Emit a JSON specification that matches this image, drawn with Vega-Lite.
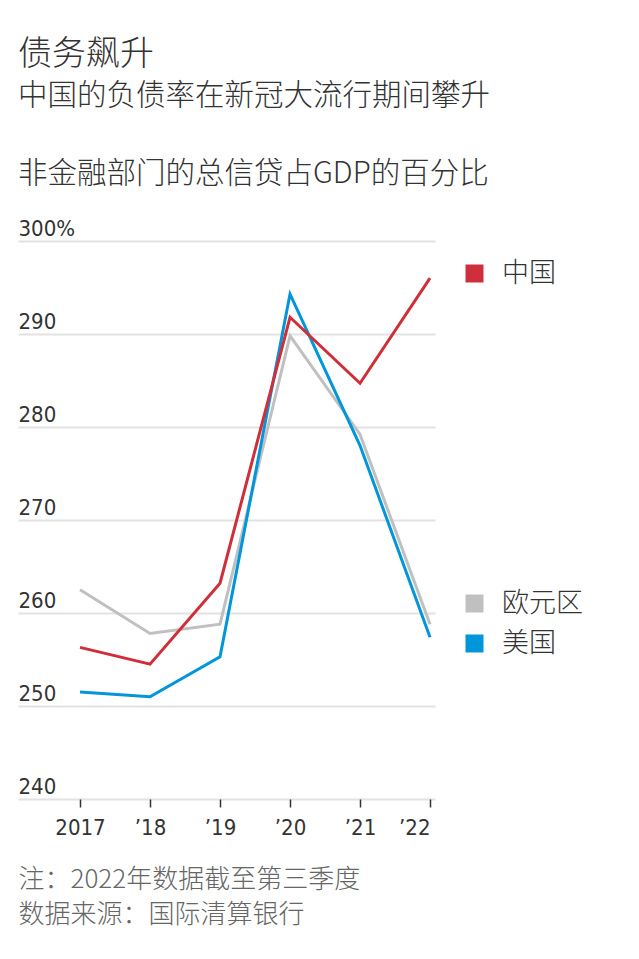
{
  "$schema": "https://vega.github.io/schema/vega-lite/v6.json",
  "width": 417,
  "height": 558,
  "autosize": "none",
  "padding": {"left": 18, "top": 241, "right": 204, "bottom": 160},
  "background": "white",
  "config": {
    "view": {"stroke": null},
    "font": "Noto Sans CJK SC"
  },
  "title": {
    "text": "债务飙升",
    "subtitle": ["中国的负债率在新冠大流行期间攀升", "非金融部门的总信贷占GDP的百分比"],
    "anchor": "start",
    "font": "Noto Sans CJK SC",
    "fontSize": 34,
    "fontWeight": 300,
    "color": "#333333",
    "subtitleFont": "Noto Sans CJK SC",
    "subtitleFontSize": 29.5,
    "subtitleFontWeight": 300,
    "subtitleColor": "#333333",
    "subtitleLineHeight": 78,
    "subtitlePadding": 10,
    "offset": 29
  },
  "data": {
    "values": [
      {"year": 2017, "region": "中国", "value": 256.3},
      {"year": 2018, "region": "中国", "value": 254.5},
      {"year": 2019, "region": "中国", "value": 263.2},
      {"year": 2020, "region": "中国", "value": 291.8},
      {"year": 2021, "region": "中国", "value": 284.7},
      {"year": 2022, "region": "中国", "value": 296.0},
      {"year": 2017, "region": "欧元区", "value": 262.5},
      {"year": 2018, "region": "欧元区", "value": 257.8},
      {"year": 2019, "region": "欧元区", "value": 258.8},
      {"year": 2020, "region": "欧元区", "value": 289.8},
      {"year": 2021, "region": "欧元区", "value": 279.2},
      {"year": 2022, "region": "欧元区", "value": 258.8},
      {"year": 2017, "region": "美国", "value": 251.5},
      {"year": 2018, "region": "美国", "value": 251.0},
      {"year": 2019, "region": "美国", "value": 255.3},
      {"year": 2020, "region": "美国", "value": 294.3},
      {"year": 2021, "region": "美国", "value": 278.0},
      {"year": 2022, "region": "美国", "value": 257.4}
    ]
  },
  "encoding": {
    "x": {
      "field": "year",
      "type": "quantitative",
      "scale": {"domain": [2016.114, 2022.071], "nice": false, "zero": false},
      "axis": {
        "values": [2017, 2018, 2019, 2020, 2021, 2022],
        "labelExpr": "datum.value == 2017 ? '2017' : '’' + substring(toString(datum.value), 2, 4)",
        "grid": false,
        "domain": false,
        "ticks": true,
        "tickSize": 8,
        "tickWidth": 1.5,
        "tickColor": "#333333",
        "labelFont": "DejaVu Sans Condensed, Roboto, sans-serif",
        "labelFontSize": 22,
        "labelColor": "#333333",
        "labelPadding": 10,
        "labelAlign": {"condition": {"test": "datum.value == 2022", "value": "right"}, "value": "center"},
        "labelDx": {"condition": {"test": "datum.value == 2022", "value": 3}, "value": 0},
        "title": ["注：2022年数据截至第三季度", "数据来源：国际清算银行"],
        "titleFont": "Noto Sans CJK SC",
        "titleFontSize": 26,
        "titleFontWeight": 300,
        "titleColor": "#666666",
        "titleAnchor": "start",
        "titleAlign": "left",
        "titleBaseline": "top",
        "titleLineHeight": 35,
        "titleX": 0,
        "titleY": 67
      }
    },
    "y": {
      "field": "value",
      "type": "quantitative",
      "scale": {"domain": [240, 300], "nice": false, "zero": false},
      "axis": {
        "values": [240, 250, 260, 270, 280, 290, 300],
        "labelExpr": "datum.value == 300 ? '300%' : datum.label",
        "grid": true,
        "gridColor": "#e2e2e2",
        "gridWidth": 2,
        "domain": false,
        "ticks": false,
        "tickSize": 0,
        "labelPadding": 0,
        "labelAlign": "left",
        "labelBaseline": "alphabetic",
        "labelOffset": -6,
        "labelFont": "DejaVu Sans Condensed, Roboto, sans-serif",
        "labelFontSize": 22,
        "labelColor": "#333333",
        "title": null
      }
    }
  },
  "layer": [
    {
      "transform": [{"filter": "datum.region == '欧元区'"}],
      "mark": {"type": "line", "strokeWidth": 3},
      "encoding": {
        "color": {
          "field": "region",
          "type": "nominal",
          "scale": {"domain": ["欧元区"], "range": ["#c0c0c0"]},
          "legend": {
            "orient": "none", "legendX": 443, "legendY": 349, "title": null,
            "symbolType": "square", "symbolSize": 324, "symbolFillColor": "#c0c0c0", "symbolStrokeColor": "#c0c0c0", "symbolStrokeWidth": 0,
            "labelFont": "Noto Sans CJK SC", "labelFontSize": 27, "labelFontWeight": 300, "labelColor": "#333333", "labelOffset": 14
          }
        }
      }
    },
    {
      "transform": [{"filter": "datum.region == '美国'"}],
      "mark": {"type": "line", "strokeWidth": 3},
      "encoding": {
        "color": {
          "field": "region",
          "type": "nominal",
          "scale": {"domain": ["美国"], "range": ["#0096d9"]},
          "legend": {
            "orient": "none", "legendX": 443, "legendY": 389, "title": null,
            "symbolType": "square", "symbolSize": 324, "symbolFillColor": "#0096d9", "symbolStrokeColor": "#0096d9", "symbolStrokeWidth": 0,
            "labelFont": "Noto Sans CJK SC", "labelFontSize": 27, "labelFontWeight": 300, "labelColor": "#333333", "labelOffset": 14
          }
        }
      }
    },
    {
      "transform": [{"filter": "datum.region == '中国'"}],
      "mark": {"type": "line", "strokeWidth": 3},
      "encoding": {
        "color": {
          "field": "region",
          "type": "nominal",
          "scale": {"domain": ["中国"], "range": ["#cf2f3a"]},
          "legend": {
            "orient": "none", "legendX": 443, "legendY": 19, "title": null,
            "symbolType": "square", "symbolSize": 324, "symbolFillColor": "#cf2f3a", "symbolStrokeColor": "#cf2f3a", "symbolStrokeWidth": 0,
            "labelFont": "Noto Sans CJK SC", "labelFontSize": 27, "labelFontWeight": 300, "labelColor": "#333333", "labelOffset": 14
          }
        }
      }
    }
  ],
  "resolve": {"scale": {"color": "independent"}}
}
